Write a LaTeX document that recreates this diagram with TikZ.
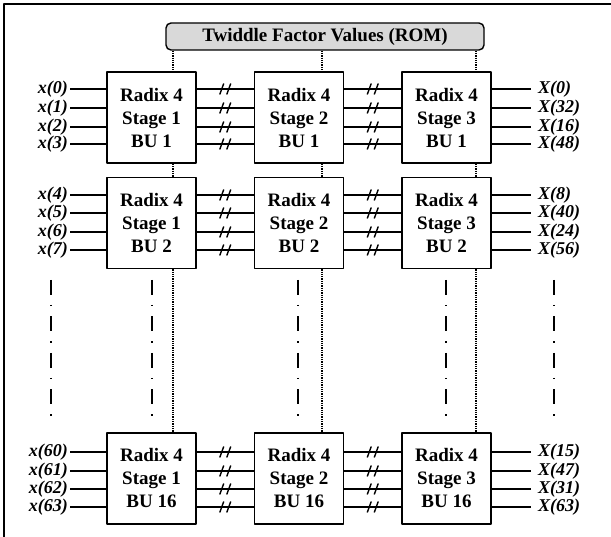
\documentclass[tikz,border=0pt]{standalone}
\usepackage{fontspec}
\setmainfont{Liberation Serif}
\begin{document}
\begin{tikzpicture}[yscale=-1, x=1pt, y=1pt, line join=round,
  block/.style={draw, line width=1.6pt, fill=white, minimum width=89pt, minimum height=91pt,
    inner sep=0pt, align=center, font=\fontsize{19}{23}\selectfont\bfseries},
  rombox/.style={draw, line width=1.4pt, fill=romgray, rounded corners=5pt,
    minimum width=318pt, minimum height=27pt, inner sep=0pt, font=\fontsize{19}{23}\selectfont\bfseries},
  inlabel/.style={anchor=east, inner ysep=0pt, inner xsep=2pt, font=\fontsize{18}{18}\selectfont\bfseries\itshape},
  outlabel/.style={anchor=west, inner ysep=0pt, inner xsep=7pt, font=\fontsize{18}{18}\selectfont\bfseries\itshape},
  wire/.style={line width=1.5pt},
  romlink/.style={line width=1.3pt, densely dotted},
  vdots/.style={line width=1.7pt, dash pattern=on 15pt off 10pt on 1.5pt off 10pt},
  brk/.pic={\draw[line width=1.4pt] (-5.5,-5.5) -- (-1.5,5.5) (1.5,-5.5) -- (5.5,5.5);}]
% Color definitions
\definecolor{romgray}{rgb}{0.85,0.85,0.85}
% End of color definitions
\useasboundingbox (0,0) rectangle (611,537);
\draw[line width=1.3pt] (611,4) -- (4,4) -- (4,537);
% ROM and butterfly units
\node[rombox] (rom) at (325,36.5) {Twiddle Factor Values (ROM)};
\node[block] (blk-1-a) at (151.5,117.5) {Radix 4\\Stage 1\\BU 1};
\node[block] (blk-2-a) at (299,117.5) {Radix 4\\Stage 2\\BU 1};
\node[block] (blk-3-a) at (446.5,117.5) {Radix 4\\Stage 3\\BU 1};
\node[block] (blk-1-b) at (151.5,223) {Radix 4\\Stage 1\\BU 2};
\node[block] (blk-2-b) at (299,223) {Radix 4\\Stage 2\\BU 2};
\node[block] (blk-3-b) at (446.5,223) {Radix 4\\Stage 3\\BU 2};
\node[block] (blk-1-c) at (151.5,478.5) {Radix 4\\Stage 1\\BU 16};
\node[block] (blk-2-c) at (299,478.5) {Radix 4\\Stage 2\\BU 16};
\node[block] (blk-3-c) at (446.5,478.5) {Radix 4\\Stage 3\\BU 16};
% Input labels
\node[inlabel] (in-a-1) at (70,89) {x(0)};
\node[inlabel] (in-a-2) at (70,108) {x(1)};
\node[inlabel] (in-a-3) at (70,127) {x(2)};
\node[inlabel] (in-a-4) at (70,144) {x(3)};
\node[inlabel] (in-b-1) at (70,195) {x(4)};
\node[inlabel] (in-b-2) at (70,213) {x(5)};
\node[inlabel] (in-b-3) at (70,232) {x(6)};
\node[inlabel] (in-b-4) at (70,250) {x(7)};
\node[inlabel] (in-c-1) at (70,452) {x(60)};
\node[inlabel] (in-c-2) at (70,471) {x(61)};
\node[inlabel] (in-c-3) at (70,489) {x(62)};
\node[inlabel] (in-c-4) at (70,507) {x(63)};
% Output labels
\node[outlabel] (out-a-1) at (531,89) {X(0)};
\node[outlabel] (out-a-2) at (531,108) {X(32)};
\node[outlabel] (out-a-3) at (531,127) {X(16)};
\node[outlabel] (out-a-4) at (531,144) {X(48)};
\node[outlabel] (out-b-1) at (531,195) {X(8)};
\node[outlabel] (out-b-2) at (531,213) {X(40)};
\node[outlabel] (out-b-3) at (531,232) {X(24)};
\node[outlabel] (out-b-4) at (531,250) {X(56)};
\node[outlabel] (out-c-1) at (531,452) {X(15)};
\node[outlabel] (out-c-2) at (531,471) {X(47)};
\node[outlabel] (out-c-3) at (531,489) {X(31)};
\node[outlabel] (out-c-4) at (531,507) {X(63)};
% Wires
\foreach \r in {a,b,c} {
  \foreach \k in {1,...,4} {
    \draw[wire] (in-\r-\k.east) -- (in-\r-\k.east -| blk-1-\r.west);
    \draw[wire] (in-\r-\k.east -| blk-1-\r.east) -- pic {brk} (in-\r-\k.east -| blk-2-\r.west);
    \draw[wire] (in-\r-\k.east -| blk-2-\r.east) -- pic {brk} (in-\r-\k.east -| blk-3-\r.west);
    \draw[wire] (out-\r-\k.west -| blk-3-\r.east) -- (out-\r-\k.west);
  }
}
% Twiddle factor links
\coordinate (tw-1) at (173,0);
\coordinate (tw-2) at (322,0);
\coordinate (tw-3) at (476,0);
\foreach \s in {1,2,3} {
  \draw[romlink] (rom.south -| tw-\s) -- (blk-\s-a.north -| tw-\s);
  \draw[romlink] (blk-\s-a.south -| tw-\s) -- (blk-\s-b.north -| tw-\s);
  \draw[romlink] (blk-\s-b.south -| tw-\s) -- (blk-\s-c.north -| tw-\s);
}
% Vertical ellipses
\foreach \x in {51,152,298,446,554}
  \draw[vdots] (\x,280) -- (\x,416);
\end{tikzpicture}
\end{document}
